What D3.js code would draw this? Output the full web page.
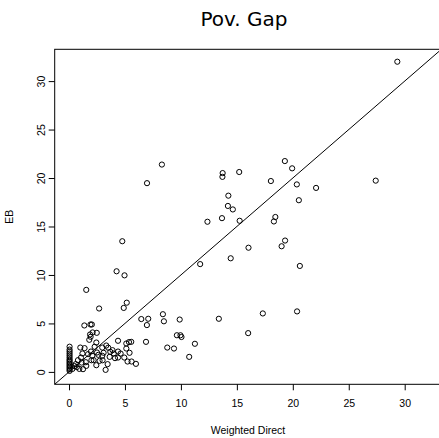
<!DOCTYPE html>
<html>
<head>
<meta charset="utf-8">
<script src="https://cdn.jsdelivr.net/npm/d3@7"></script>
<style>
  body { margin: 0; background: #fff; }
  svg { display: block; font-family: "Liberation Sans", Arial, sans-serif; }
</style>
</head>
<body>
<div id="chart"></div>
<script>
const width = 439;
const height = 438;

const title = "Pov. Gap";
const xLabel = "Weighted Direct";
const yLabel = "EB";
const xTicks = [0, 5, 10, 15, 20, 25, 30];
const yTicks = [0, 5, 10, 15, 20, 25, 30];

// Weighted Direct estimates
const direct = [
  29.34, 19.29, 19.94, 13.73, 13.71, 15.21, 8.30, 6.97, 18.04, 20.36,
  22.08, 27.41, 14.24, 14.20, 14.64, 20.54, 13.67, 12.37, 15.25, 18.44,
  18.31, 19.31, 19.00, 16.04, 4.76, 11.72, 14.45, 20.63, 4.25, 4.96,
  1.54, 5.16, 4.89, 2.69, 13.39, 17.32, 20.38, 16.01, 6.46, 7.08,
  6.96, 8.39, 8.48, 9.89, 9.64, 9.96, 10.05, 11.25, 8.78, 9.38,
  10.74, 6.88, 5.36, 5.56, 4.38, 1.37, 1.92, 2.04, 2.48, 1.88,
  1.93, 1.81, 3.33, 2.44, 2.29, 2.97, 1.39, 1.01, 5.12, 5.12,
  3.89, 4.38, 4.61, 5.41, 4.94, 5.23, 5.59, 5.98, 3.45, 3.27,
  2.44, 2.97, 3.63, 2.62, 2.08, 1.70, 1.07, 1.13, 0.80, 1.54,
  1.25, 0.92, 1.96, 2.20, 2.73, 4.11, 4.38, 3.69, 3.09, 2.11,
  0.05, 0.05, 0.05, 0.05, 0.05, 0.05, 0.05, 0.05, 0.05, 0.05,
  0.05, 0.05, 0.05, 0.05, 0.05,
  0.30, 0.50, 0.70, 1.50, 2.50, 3.50, 4.00, 2.00, 3.00, 1.20, 0.60
];

// EB estimates
const eb = [
  32.00, 21.75, 21.00, 20.51, 20.12, 20.62, 21.39, 19.47, 19.69, 19.34,
  18.98, 19.73, 18.18, 17.12, 16.76, 17.71, 15.86, 15.49, 15.59, 15.98,
  15.52, 13.55, 12.96, 12.81, 13.48, 11.12, 11.72, 10.93, 10.38, 9.96,
  8.46, 7.14, 6.60, 6.54, 5.48, 6.03, 6.24, 4.00, 5.45, 5.48,
  4.83, 5.95, 5.22, 5.40, 3.78, 3.78, 3.60, 2.90, 2.51, 2.41,
  1.55, 3.10, 3.07, 3.10, 3.21, 4.79, 4.89, 4.89, 4.03, 3.86,
  3.62, 3.31, 2.72, 3.03, 2.59, 2.51, 2.45, 2.51, 2.93, 2.41,
  2.24, 2.10, 1.89, 1.97, 1.48, 1.07, 1.07, 0.83, 0.80, 0.21,
  0.69, 1.66, 1.55, 1.76, 1.66, 1.83, 1.48, 0.96, 1.21, 0.62,
  0.28, 0.31, 2.10, 1.21, 1.14, 1.42, 1.48, 2.07, 1.97, 4.07,
  0.10, 0.25, 0.40, 0.55, 0.70, 0.85, 1.00, 1.15, 1.30, 1.50,
  1.70, 1.90, 2.10, 2.30, 2.60,
  0.30, 0.60, 0.50, 1.00, 2.00, 2.50, 1.90, 1.20, 1.20, 1.90, 0.80
];

const points = direct.map((d, i) => ({ x: d, y: eb[i] }));

const plotLeft = 54.7;
const plotRight = 441.4;
const plotTop = 49.3;
const plotBottom = 384.3;

const x = d3.scaleLinear().domain([-1.28, 33.28]).range([plotLeft, plotRight]);
const y = d3.scaleLinear().domain([-1.28, 33.28]).range([plotBottom, plotTop]);

const svg = d3
  .select("#chart")
  .append("svg")
  .attr("width", width)
  .attr("height", height);

svg
  .append("defs")
  .append("clipPath")
  .attr("id", "plotClip")
  .append("rect")
  .attr("x", plotLeft)
  .attr("y", plotTop)
  .attr("width", plotRight - plotLeft)
  .attr("height", plotBottom - plotTop);

// Title
svg
  .append("text")
  .attr("x", 244)
  .attr("y", 26)
  .attr("text-anchor", "middle")
  .attr("font-family", "DejaVu Sans, sans-serif")
  .attr("font-size", 20)
  .text(title);

// Axes
const xAxis = svg
  .append("g")
  .attr("transform", `translate(0,${plotBottom})`)
  .call(d3.axisBottom(x).tickValues(xTicks).tickSize(6).tickPadding(9));

const yAxis = svg
  .append("g")
  .attr("transform", `translate(${plotLeft},0)`)
  .call(d3.axisLeft(y).tickValues(yTicks).tickSize(6).tickPadding(5));

[xAxis, yAxis].forEach((g) => {
  g.select(".domain").remove();
  g.selectAll("line").attr("stroke", "#000");
  g.selectAll("text")
    .attr("font-size", 10.5)
    .attr("font-family", "Liberation Sans, Arial, sans-serif")
    .attr("fill", "#000");
});

// Rotated y tick labels (R style)
yAxis
  .selectAll("text")
  .attr("transform", "rotate(-90)")
  .attr("text-anchor", "middle")
  .attr("x", 0)
  .attr("y", -10)
  .attr("dy", 0);

// Axis titles
svg
  .append("text")
  .attr("x", (plotLeft + plotRight) / 2)
  .attr("y", 434)
  .attr("text-anchor", "middle")
  .attr("font-size", 10.5)
  .text(xLabel);

svg
  .append("text")
  .attr("transform", `translate(13,${(plotTop + plotBottom) / 2}) rotate(-90)`)
  .attr("text-anchor", "middle")
  .attr("font-size", 10.5)
  .text(yLabel);

// Plot box
svg
  .append("rect")
  .attr("x", plotLeft)
  .attr("y", plotTop)
  .attr("width", plotRight - plotLeft)
  .attr("height", plotBottom - plotTop)
  .attr("fill", "none")
  .attr("stroke", "#000")
  .attr("stroke-width", 1);

// y = x reference line
svg
  .append("line")
  .attr("clip-path", "url(#plotClip)")
  .attr("x1", x(-1.28))
  .attr("y1", y(-1.28))
  .attr("x2", x(33.28))
  .attr("y2", y(33.28))
  .attr("stroke", "#000")
  .attr("stroke-width", 1);

// Points
svg
  .append("g")
  .selectAll("circle")
  .data(points)
  .join("circle")
  .attr("cx", (d) => x(d.x))
  .attr("cy", (d) => y(d.y))
  .attr("r", 2.6)
  .attr("fill", "none")
  .attr("stroke", "#000")
  .attr("stroke-width", 1);
</script>
</body>
</html>
